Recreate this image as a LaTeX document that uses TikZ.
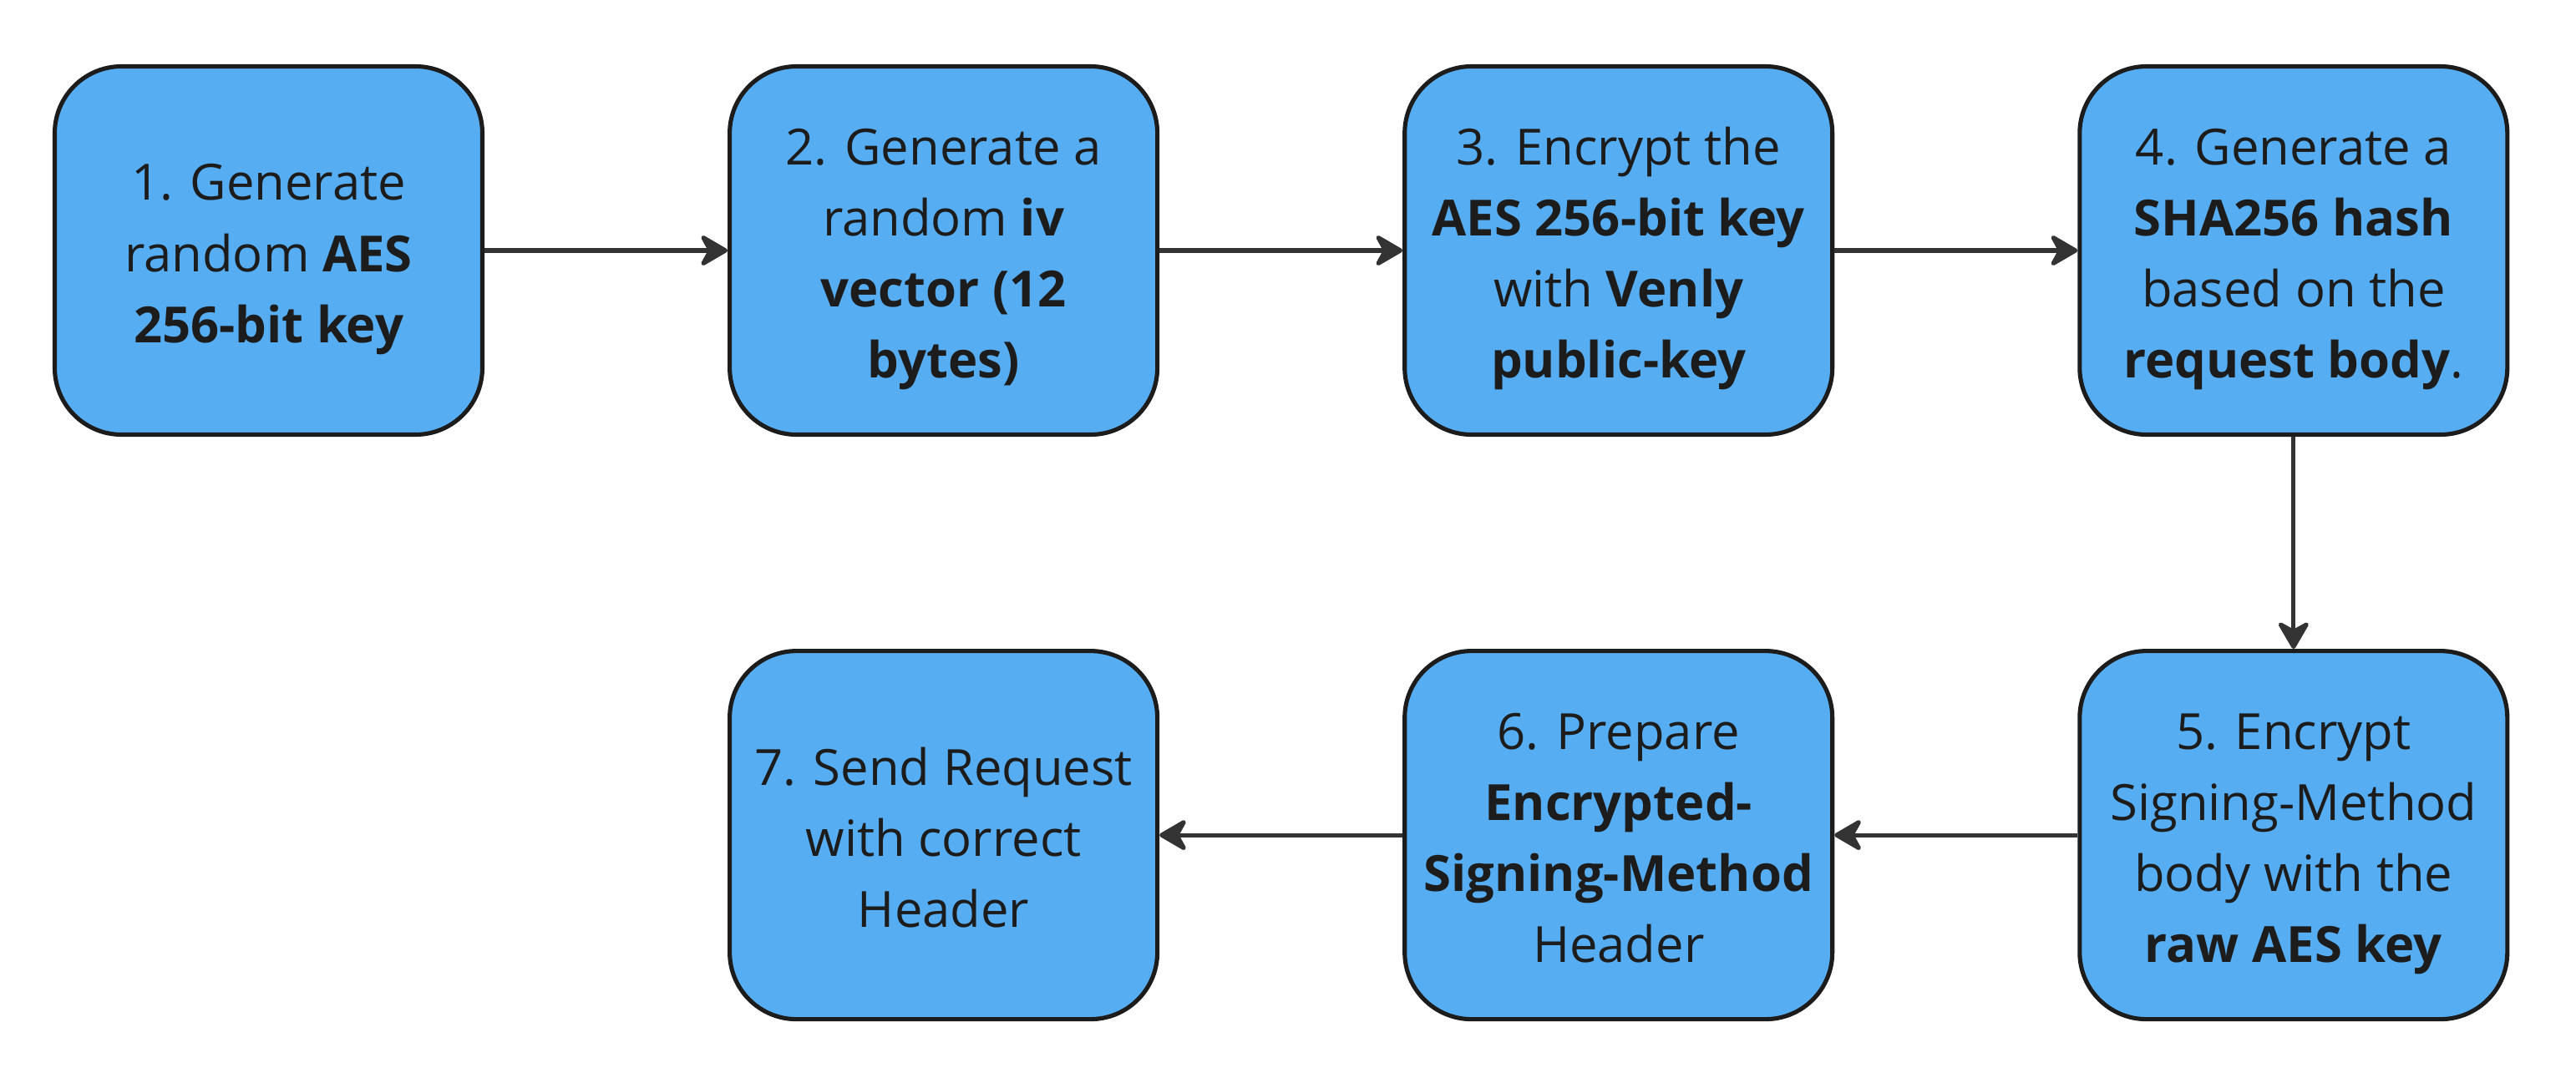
\documentclass[tikz,border=0pt]{standalone}
\usepackage{fontspec}
\setmainfont{Open Sans}
\usepackage{xcolor}
\usepackage{tikz}
\usetikzlibrary{positioning}
\usetikzlibrary{arrows.meta}

\definecolor{boxblue}{RGB}{86,173,242}
\definecolor{boxline}{RGB}{28,28,28}
\definecolor{arrowgray}{RGB}{51,51,51}

\newcommand{\steptext}[1]{\raisebox{-0.08cm}[\height][\depth]{\begin{tabular}{@{}c@{}}#1\end{tabular}}}

\begin{document}
\begin{tikzpicture}[
        stepbox/.style = {draw = boxline, fill = boxblue, line width = 1.45pt,
            rounded corners = 0.8cm, minimum width = 5.12cm, minimum height = 4.41cm,
            text = boxline, font = \fontsize{17}{24.2}\selectfont},
        flow/.style = {draw = arrowgray, line width = 1.45pt,
            -{Stealth[length = 0.38cm, width = 0.44cm, inset = 0.12cm, round]}}
    ]
        \useasboundingbox (0, 0) rectangle (30.84, -12.96);

        \node[stepbox] (s1) at (3.215, -3.00)
            {\steptext{1. Generate\\ random \textbf{AES}\\ \textbf{256-bit key}}};
        \node[stepbox, right = 2.91cm of s1] (s2)
            {\steptext{2. Generate a\\ random \textbf{iv}\\ \textbf{vector (12}\\ \textbf{bytes)}}};
        \node[stepbox, right = 2.91cm of s2] (s3)
            {\steptext{3. Encrypt the\\ \textbf{AES 256-bit key}\\ with \textbf{Venly}\\ \textbf{public-key}}};
        \node[stepbox, right = 2.91cm of s3] (s4)
            {\steptext{4. Generate a\\ \textbf{SHA256 hash}\\ based on the\\ \textbf{request body}.}};

        \node[stepbox, below = 2.54cm of s4] (s5)
            {\steptext{5. Encrypt\\ Signing-Method\\ body with the\\ \textbf{raw AES key}}};
        \node[stepbox, left = 2.91cm of s5] (s6)
            {\steptext{6. Prepare\\ \textbf{Encrypted-}\\ \textbf{Signing-Method}\\ Header}};
        \node[stepbox, left = 2.91cm of s6] (s7)
            {\steptext{7. Send Request\\ with correct\\ Header}};

        \draw[flow] (s1) -- (s2);
        \draw[flow] (s2) -- (s3);
        \draw[flow] (s3) -- (s4);
        \draw[flow] (s4) -- (s5);
        \draw[flow] (s5) -- (s6);
        \draw[flow] (s6) -- (s7);
    \end{tikzpicture}
\end{document}
